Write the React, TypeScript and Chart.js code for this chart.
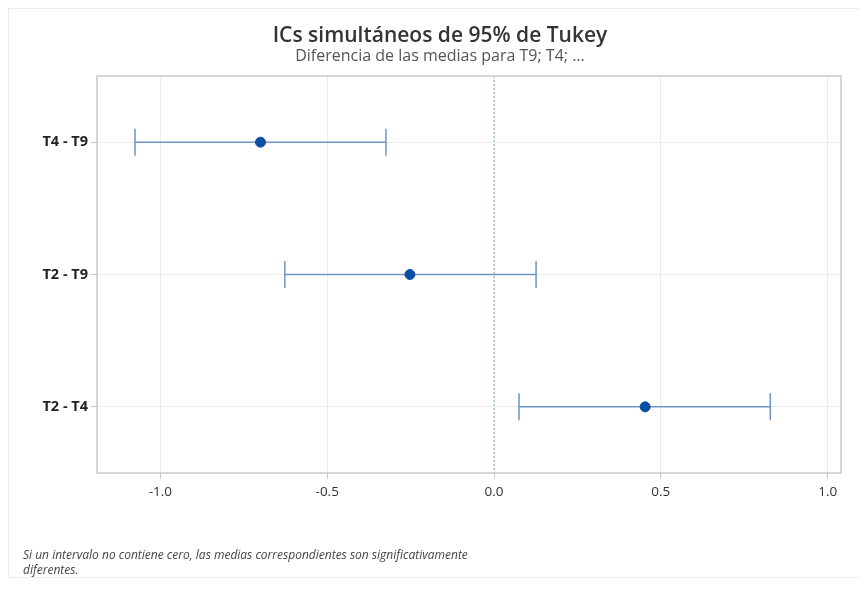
import React, { useEffect, useRef } from "react";
import { Chart, registerables } from "chart.js";

Chart.register(...registerables);

const comparisons = ["T4 - T9", "T2 - T9", "T2 - T4"];
const centers = [-0.7, -0.252, 0.453];
const lowers = [-1.076, -0.627, 0.075];
const uppers = [-0.324, 0.126, 0.828];
const xTickValues = [-1.0, -0.5, 0.0, 0.5, 1.0];
const xMin = -1.19;
const xMax = 1.04;

const FONT = "'Open Sans', 'Noto Sans', sans-serif";

const decorPlugin = {
  id: "decor",
  beforeDatasetsDraw(chart: any) {
    const { ctx, chartArea, scales } = chart;
    const xs = scales.x;
    const ys = scales.y;
    ctx.save();
    const x0 = xs.getPixelForValue(0);
    ctx.strokeStyle = "#7cbf7c";
    ctx.lineWidth = 1;
    ctx.setLineDash([2, 2]);
    ctx.beginPath();
    ctx.moveTo(x0, chartArea.top);
    ctx.lineTo(x0, chartArea.bottom);
    ctx.stroke();
    ctx.setLineDash([]);
    ctx.strokeStyle = "#6f96c3";
    ctx.lineWidth = 1.5;
    for (let i = 0; i < comparisons.length; i++) {
      const y = ys.getPixelForValue(i);
      const a = xs.getPixelForValue(lowers[i]);
      const b = xs.getPixelForValue(uppers[i]);
      ctx.beginPath();
      ctx.moveTo(a, y);
      ctx.lineTo(b, y);
      ctx.moveTo(a, y - 13.5);
      ctx.lineTo(a, y + 13.5);
      ctx.moveTo(b, y - 13.5);
      ctx.lineTo(b, y + 13.5);
      ctx.stroke();
    }
    ctx.restore();
  },
  afterDraw(chart: any) {
    const { ctx, chartArea } = chart;
    ctx.save();
    ctx.strokeStyle = "#c9c9c9";
    ctx.lineWidth = 1.5;
    ctx.strokeRect(chartArea.left, chartArea.top, chartArea.right - chartArea.left, chartArea.bottom - chartArea.top);
    ctx.restore();
  },
};

export default function App() {
  const ref = useRef<HTMLCanvasElement | null>(null);
  useEffect(() => {
    if (!ref.current) return;
    const chart = new Chart(ref.current, {
      type: "line",
      data: {
        labels: comparisons,
        datasets: [
          {
            data: centers,
            showLine: false,
            pointRadius: 5,
            pointHoverRadius: 5,
            pointBackgroundColor: "#0b4ea2",
            pointBorderColor: "#0b4ea2",
            borderColor: "#0b4ea2",
          },
        ],
      },
      plugins: [decorPlugin],
      options: {
        indexAxis: "y",
        responsive: false,
        animation: false,
        layout: { padding: { left: 0, right: 26, top: 68, bottom: 0 } },
        plugins: {
          legend: { display: false },
          title: { display: false },
          tooltip: { enabled: false },
        },
        scales: {
          x: {
            type: "linear",
            min: xMin,
            max: xMax,
            afterBuildTicks: (scale: any) => {
              scale.ticks = xTickValues.map((v) => ({ value: v }));
            },
            afterFit: (scale: any) => {
              scale.height = 105;
            },
            grid: {
              color: "#ececec",
              tickColor: "#c9c9c9",
              tickLength: 6,
              drawTicks: true,
            },
            border: { display: false },
            ticks: {
              padding: 5,
              color: "#333",
              font: { family: FONT, size: 13.5 },
              callback: (v: any) => Number(v).toFixed(1),
            },
          },
          y: {
            type: "category",
            offset: true,
            afterFit: (scale: any) => {
              scale.width = 89;
            },
            grid: {
              color: "#ececec",
              tickColor: "#c9c9c9",
              tickLength: 6,
              offset: false,
            },
            border: { display: false },
            ticks: {
              padding: 3,
              color: "#222",
              font: { family: FONT, size: 14.5, weight: "bold" },
            },
          },
        },
      },
    } as any);
    return () => chart.destroy();
  }, []);

  return (
    <div style={{ position: "relative", width: 859, height: 570 }}>
      <canvas ref={ref} width={859} height={570} style={{ display: "block" }} />
      <div
        style={{
          position: "absolute",
          left: 0,
          top: 0,
          width: 859,
          height: 570,
          boxSizing: "border-box",
          border: "1px solid #ececec",
          pointerEvents: "none",
        }}
      />
      <div
        style={{
          position: "absolute",
          left: 132,
          top: 13,
          width: 600,
          textAlign: "center",
          fontFamily: FONT,
          fontWeight: 600,
          fontSize: 21,
          lineHeight: "26px",
          color: "#333",
        }}
      >
        ICs simultáneos de 95% de Tukey
      </div>
      <div
        style={{
          position: "absolute",
          left: 132,
          top: 37,
          width: 600,
          textAlign: "center",
          fontFamily: FONT,
          fontSize: 16,
          lineHeight: "20px",
          color: "#555",
        }}
      >
        Diferencia de las medias para T9; T4; ...
      </div>
      <div
        style={{
          position: "absolute",
          left: 15,
          top: 539,
          width: 620,
          fontFamily: FONT,
          fontStyle: "italic",
          fontSize: 12,
          lineHeight: "15px",
          color: "#444",
        }}
      >
        Si un intervalo no contiene cero, las medias correspondientes son significativamente
        <br />
        diferentes.
      </div>
    </div>
  );
}
